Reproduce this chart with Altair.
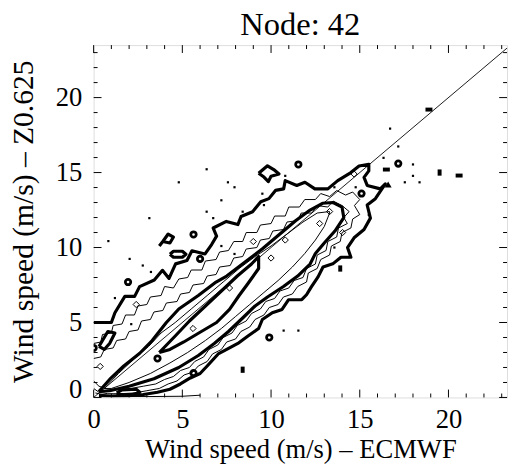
import altair as alt
import pandas as pd

TITLE = "Node: 42"
X_TITLE = "Wind speed (m/s)  \u2013 ECMWF"
Y_TITLE = "Wind speed (m/s)  \u2013 Z0.625"
X_MAX = 23.3
Y_MAX = 23.5
major_ticks = [0, 5, 10, 15, 20]
minor_ticks = [1, 2, 3, 4, 6, 7, 8, 9, 11, 12, 13, 14, 16, 17, 18, 19, 21, 22, 23]
diag_x = [0, 23.3]
diag_y = [0, 23.3]

# ---- thick contours ----
outer_contour = [(0, 5.0), (1.0, 5.0), (1.2, 5.65), (1.76, 6.74), (2.31, 6.74), (2.59, 7.39), (3.42, 7.83),
                 (3.88, 8.48), (4.25, 7.94), (4.62, 8.91), (5.26, 9.13), (5.54, 9.78), (6.28, 9.57),
                 (6.65, 10.2), (6.93, 10.76), (6.74, 11.3), (7.48, 11.74), (8.13, 11.53), (8.31, 12.07),
                 (8.96, 12.39), (9.42, 13.05), (9.88, 13.26), (10.25, 13.81), (10.71, 13.91), (10.8, 14.46),
                 (11.45, 14.14), (11.91, 14.35), (12.47, 13.91), (13.2, 13.91), (13.76, 14.46), (14.5, 15.0),
                 (14.96, 15.44), (15.51, 15.55), (15.51, 15.11), (15.24, 14.68), (15.42, 14.14), (16.16, 13.91),
                 (16.44, 14.24), (15.88, 13.26), (15.42, 12.83), (15.6, 11.96), (15.24, 11.2), (14.68, 10.65),
                 (14.31, 10.0), (14.5, 9.35), (13.94, 9.35), (13.48, 8.91), (12.93, 8.7), (12.65, 8.04),
                 (12.28, 7.39), (12.0, 6.85), (11.73, 6.52), (10.99, 6.52), (10.62, 5.87), (10.07, 5.65),
                 (9.51, 5.2), (9.3, 4.6), (8.7, 4.1), (8.13, 3.6), (7.66, 3.3), (7.02, 2.9), (6.4, 2.1),
                 (6.0, 1.6), (5.45, 1.3), (4.89, 0.9), (4.3, 0.55), (3.6, 0.35), (2.8, 0.2), (2.0, 0.12),
                 (1.0, 0.1), (0.3, 0.12)]
band_contour = [(0.3, 0.4), (0.9, 1.2), (1.7, 2.1), (2.6, 2.95), (3.3, 3.8), (4.1, 5.0), (4.8, 5.9), (5.9, 6.8),
                (6.9, 7.7), (7.5, 8.1), (8.5, 9.0), (9.5, 9.9), (10.5, 10.9), (11.4, 11.8), (12.2, 12.5),
                (12.9, 12.95), (13.5, 13.0), (14.0, 12.7), (14.1, 12.0), (13.6, 11.1), (13.0, 10.3), (12.5, 9.6),
                (12.2, 8.9), (11.5, 8.1), (10.7, 7.4), (9.8, 6.7), (9.1, 6.1), (8.4, 5.3), (7.6, 4.4), (6.8, 3.6),
                (5.9, 2.8), (4.8, 2.0), (3.4, 1.25), (2.0, 0.75), (0.9, 0.45), (0.3, 0.4)]
core_contour = [(3.7, 3.0), (4.6, 4.1), (5.4, 5.1), (6.3, 6.1), (7.2, 7.1), (8.1, 8.1), (8.9, 8.9), (9.3, 9.4),
                (9.3, 8.6), (8.7, 7.6), (8.2, 6.8), (7.66, 5.87), (6.93, 5.0), (6.0, 4.35), (5.08, 3.7),
                (4.3, 3.2), (3.7, 3.0)]
left_loop = [(0.3, 3.4), (0.8, 4.4), (1.2, 4.3), (0.9, 3.6), (0.6, 3.2), (0.3, 3.4)]
bottom_loop = [(1.3, 0.3), (1.6, 0.5), (2.4, 0.55), (2.6, 0.35), (2.2, 0.2), (1.5, 0.2), (1.3, 0.3)]
oval_loop = [(4.3, 9.55), (4.5, 9.75), (5.0, 9.75), (5.2, 9.55), (5.0, 9.35), (4.5, 9.35), (4.3, 9.55)]
nine_loop = [(3.9, 10.4), (4.2, 10.9), (4.5, 10.7), (4.3, 10.3), (3.9, 10.4), (3.7, 10.1)]
quad_loop = [(9.3, 14.95), (9.8, 15.45), (10.15, 15.2), (10.45, 14.9), (10.0, 14.75), (9.85, 14.4),
             (9.6, 14.7), (9.3, 14.95)]

# ---- thin contours ----
level2_contour = [(0, 3.6), (0.4, 3.7), (0.5, 4.2), (1.0, 4.3), (1.1, 4.8), (1.6, 4.9), (1.8, 5.5), (2.3, 5.5),
                  (2.5, 6.1), (3.0, 6.2), (3.2, 6.7), (3.8, 6.8), (4.0, 7.4), (4.5, 7.3), (4.8, 7.9), (5.3, 8.0),
                  (5.5, 8.5), (6.1, 8.5), (6.3, 9.1), (6.9, 9.2), (7.1, 9.7), (7.6, 9.8), (7.9, 10.4),
                  (8.4, 10.4), (8.6, 11.0), (9.2, 11.0), (9.4, 11.5), (10.0, 11.6), (10.2, 12.1), (10.8, 12.1),
                  (11.0, 12.7), (11.6, 12.7), (11.9, 13.2), (12.5, 13.2), (12.8, 13.6), (13.3, 13.4),
                  (13.7, 13.8), (14.2, 13.5), (14.6, 13.7), (15.0, 13.2), (14.7, 12.8), (15.0, 12.2),
                  (14.6, 11.9), (14.5, 11.3), (14.0, 11.0), (13.9, 10.4), (13.4, 10.1), (13.3, 9.5), (12.8, 9.2),
                  (12.6, 8.6), (12.1, 8.3), (12.0, 7.7), (11.5, 7.4), (11.2, 6.9), (10.7, 6.7), (10.4, 6.2),
                  (9.9, 6.0), (9.6, 5.5), (9.1, 5.2), (8.8, 4.7), (8.3, 4.4), (8.0, 3.9), (7.5, 3.7), (7.2, 3.2),
                  (6.7, 2.9), (6.4, 2.4), (5.9, 2.1), (5.6, 1.7), (5.1, 1.5), (4.7, 1.1), (4.2, 0.9), (3.7, 0.6),
                  (3.0, 0.45), (2.3, 0.3), (1.5, 0.25), (0.8, 0.25), (0.3, 0.35), (0, 0.6)]
level3_contour = [(0, 2.6), (0.4, 2.7), (0.6, 3.2), (1.1, 3.3), (1.3, 3.8), (1.8, 3.9), (2.0, 4.4), (2.5, 4.5),
                  (2.7, 5.1), (3.2, 5.2), (3.4, 5.7), (3.9, 5.8), (4.1, 6.3), (4.7, 6.4), (4.9, 6.9), (5.4, 7.0),
                  (5.6, 7.5), (6.2, 7.6), (6.4, 8.1), (6.9, 8.2), (7.1, 8.7), (7.7, 8.8), (7.9, 9.3), (8.4, 9.4),
                  (8.6, 9.9), (9.2, 10.0), (9.4, 10.5), (9.9, 10.6), (10.1, 11.1), (10.7, 11.2), (10.9, 11.7),
                  (11.5, 11.8), (11.7, 12.3), (12.3, 12.3), (12.6, 12.8), (13.2, 12.7), (13.5, 13.1),
                  (14.0, 12.8), (14.4, 12.4), (14.1, 12.0), (14.3, 11.6), (13.8, 11.3), (13.7, 10.7),
                  (13.2, 10.4), (13.1, 9.8), (12.6, 9.5), (12.5, 8.9), (12.0, 8.6), (11.8, 8.0), (11.3, 7.8),
                  (11.0, 7.3), (10.5, 7.1), (10.2, 6.6), (9.7, 6.4), (9.4, 5.9), (8.9, 5.6), (8.6, 5.1),
                  (8.1, 4.8), (7.8, 4.3), (7.3, 4.0), (7.0, 3.5), (6.5, 3.2), (6.2, 2.7), (5.7, 2.4), (5.4, 2.0),
                  (4.9, 1.8), (4.5, 1.4), (4.0, 1.2), (3.5, 0.9), (2.8, 0.75), (2.1, 0.6), (1.4, 0.55),
                  (0.8, 0.55), (0.3, 0.75), (0, 1.1)]
level5_contour = [(0.6, 0.6), (1.4, 1.6), (2.3, 2.6), (3.1, 3.4), (3.8, 4.3), (4.6, 5.0), (5.5, 5.9), (6.4, 6.8),
                  (7.3, 7.7), (8.2, 8.6), (9.1, 9.4), (10.0, 10.1), (10.9, 10.9), (11.8, 11.7), (12.6, 12.3),
                  (13.3, 12.4), (13.3, 12.3), (13.0, 11.4), (12.5, 10.5), (11.9, 9.6), (11.2, 8.7), (10.4, 7.8),
                  (9.6, 7.0), (8.8, 6.2), (8.0, 5.4), (7.2, 4.6), (6.3, 3.8), (5.3, 3.0), (4.3, 2.3), (3.2, 1.6),
                  (2.0, 1.0), (1.0, 0.6), (0.6, 0.6)]
axis_base_contour = [(0.1, 0.3), (1.0, 0.08), (3.0, 0.06), (5.0, 0.08), (6.0, 0.15)]

# ---- small isolated features ----
dot_x = [0.83, 2.03, 2.77, 3.23, 3.14, 4.8, 6.37, 7.57, 7.94, 7.2, 6.37, 6.74, 8.4, 9.51, 9.6, 10.8, 13.57,
         14.77, 15.51, 16.71, 17.17, 16.34, 18.0, 17.54, 18.37, 18.0, 13.57, 10.71, 11.54, 2.12, 7.2, 7.94, 1.2]
dot_y = [10.43, 9.24, 8.8, 8.37, 11.96, 14.35, 15.22, 14.35, 14.02, 13.15, 12.39, 11.96, 12.39, 13.59, 12.83,
         14.78, 14.02, 14.02, 12.17, 17.93, 16.74, 15.98, 15.54, 14.35, 14.35, 14.78, 10.0, 4.46, 4.46, 4.89,
         10.1, 9.57, 6.63]
ring_x = [6.0, 11.54, 17.17, 15.1, 9.9, 5.63, 1.94, 3.6, 5.63, 0.0]
ring_y = [9.24, 15.54, 15.6, 13.6, 4.0, 10.87, 7.7, 2.6, 1.63, 3.3]
hdash_x = [18.9, 16.5, 20.6]
hdash_y = [19.2, 15.2, 14.8]
vdash_x = [19.5, 13.9, 8.4]
vdash_y = [15.0, 8.6, 1.85]
tri_x = [16.6]
tri_y = [14.2]
diamond_x = [10.8, 5.6, 7.66, 2.4, 0.37, 14.68, 12.74, 14.03, 10.0, 13.3, 9.0]
diamond_y = [10.5, 4.6, 7.3, 6.2, 2.07, 14.9, 11.6, 11.0, 9.3, 12.4, 10.4]

thick_groups = {"outer": outer_contour, "band": band_contour, "core": core_contour, "left": left_loop,
                "bottom": bottom_loop, "oval": oval_loop, "nine": nine_loop, "quad": quad_loop}
thin_groups = {"l2": level2_contour, "l3": level3_contour, "l5": level5_contour, "base": axis_base_contour}


def to_df(groups):
    rows = []
    for name, pts in groups.items():
        for k, (x, y) in enumerate(pts):
            rows.append({"cid": name, "k": k, "x": x, "y": y})
    return pd.DataFrame(rows)


FONT = "Liberation Serif"
W, H = 420, 358
xs = alt.Scale(domain=[0, X_MAX], nice=False, zero=False)
ys = alt.Scale(domain=[0, Y_MAX], nice=False, zero=False)

x_axis = alt.Axis(values=major_ticks, title=X_TITLE, ticks=False, domain=False, grid=False,
                  labelFont=FONT, labelFontSize=27, labelColor="black", labelPadding=10,
                  labelFlush=False, labelOverlap=False, format="d",
                  titleFont=FONT, titleFontSize=27, titleFontWeight="normal", titleColor="black",
                  titlePadding=4)
y_axis = alt.Axis(values=major_ticks, title=Y_TITLE, ticks=False, domain=False, grid=False,
                  labelFont=FONT, labelFontSize=27, labelColor="black", labelPadding=12,
                  labelFlush=False, labelOverlap=False, format="d",
                  labelBaseline={"condition": {"test": "datum.value === 0", "value": "alphabetic"},
                                 "value": "middle"},
                  titleFont=FONT, titleFontSize=30, titleFontWeight="normal", titleColor="black",
                  titlePadding=17)


def X(field="x"):
    return alt.X(f"{field}:Q", scale=xs, axis=x_axis)


def Y(field="y"):
    return alt.Y(f"{field}:Q", scale=ys, axis=y_axis)


diag = alt.Chart(pd.DataFrame({"x": diag_x, "y": diag_y})).mark_line(
    color="black", strokeWidth=0.9, clip=True).encode(x=X(), y=Y())

thick = alt.Chart(to_df(thick_groups)).mark_line(color="black", strokeWidth=3.2, clip=True,
                                                 strokeJoin="round").encode(
    x=X(), y=Y(), detail="cid:N", order="k:Q")
thin = alt.Chart(to_df(thin_groups)).mark_line(color="black", strokeWidth=1, clip=True).encode(
    x=X(), y=Y(), detail="cid:N", order="k:Q")

dots = alt.Chart(pd.DataFrame({"x": dot_x, "y": dot_y})).mark_square(
    size=5, color="black", opacity=1).encode(x=X(), y=Y())
rings = alt.Chart(pd.DataFrame({"x": ring_x, "y": ring_y})).mark_point(
    shape="circle", filled=False, size=30, strokeWidth=2.8, color="black", opacity=1, clip=True).encode(
    x=X(), y=Y())
hd = alt.Chart(pd.DataFrame({"x": hdash_x, "y": hdash_y})).mark_point(
    shape="stroke", size=50, strokeWidth=4, color="black", opacity=1).encode(x=X(), y=Y())
vd = alt.Chart(pd.DataFrame({"x": vdash_x, "y": vdash_y})).mark_point(
    shape="stroke", size=40, strokeWidth=4, angle=90, color="black", opacity=1).encode(x=X(), y=Y())
tri = alt.Chart(pd.DataFrame({"x": tri_x, "y": tri_y})).mark_point(
    shape="triangle-up", size=50, filled=True, color="black", opacity=1).encode(x=X(), y=Y())
dia = alt.Chart(pd.DataFrame({"x": diamond_x, "y": diamond_y})).mark_point(
    shape="diamond", size=40, filled=False, strokeWidth=1, color="black", opacity=1).encode(x=X(), y=Y())


def tick_layer(vals, axis_ch, p1, p2):
    base = alt.Chart(pd.DataFrame({axis_ch: vals})).mark_rule(color="black", strokeWidth=1)
    if axis_ch == "x":
        return base.encode(x=X(), y=alt.value(p1), y2=alt.value(p2))
    return base.encode(y=Y(), x=alt.value(p1), x2=alt.value(p2))


ticks = [
    tick_layer(major_ticks, "x", H, H - 8), tick_layer(minor_ticks, "x", H, H - 4),
    tick_layer(major_ticks, "x", 0, 8), tick_layer(minor_ticks, "x", 0, 4),
    tick_layer(major_ticks, "y", 0, 8), tick_layer(minor_ticks, "y", 0, 4),
    tick_layer(major_ticks, "y", W, W - 8), tick_layer(minor_ticks, "y", W, W - 4),
]

chart = alt.layer(diag, thin, thick, dots, rings, hd, vd, tri, dia, *ticks).properties(
    width=W, height=H,
    title=alt.TitleParams(TITLE, font=FONT, fontSize=33, fontWeight="normal", color="black",
                          anchor="middle", offset=3),
    autosize=alt.AutoSizeParams(type="none"),
    padding={"left": 87, "top": 34, "right": 1, "bottom": 70},
).configure_view(stroke="black", strokeWidth=1).configure(background="white")

chart.save("out.html", embed_options={"renderer": "svg", "actions": False})
